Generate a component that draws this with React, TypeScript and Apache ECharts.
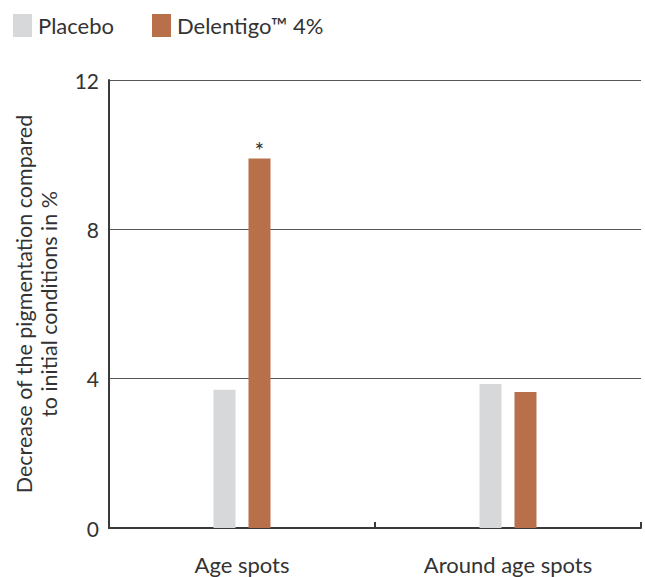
import React, { useEffect, useRef } from "react";
import * as echarts from "echarts";

const categories = ["Age spots", "Around age spots"];
const placebo = [3.7, 3.86];
const delentigo = [9.9, 3.64];
const seriesNames = ["Placebo", "Delentigo™ 4%"];
const significance = ["*", ""];
const yTicks = { min: 0, max: 12, interval: 4 };

const FONT = "Lato, 'Noto Sans', sans-serif";
const TXT = "#333333";

export default function App() {
  const ref = useRef<HTMLDivElement>(null);
  useEffect(() => {
    if (!ref.current) return;
    const chart = echarts.init(ref.current, null, { renderer: "svg" });
    chart.setOption({
      animation: false,
      textStyle: { fontFamily: FONT, color: TXT },
      legend: {
        left: 13,
        top: 14,
        padding: 0,
        icon: "rect",
        itemWidth: 19,
        itemHeight: 23,
        itemGap: 38,
        textStyle: { fontSize: 22, color: TXT, fontFamily: FONT, padding: [0, 0, 0, 1] },
        data: seriesNames,
      },
      grid: { left: 109, right: 4, top: 80, bottom: 49, outerBoundsMode: "none", containLabel: false },
      xAxis: {
        type: "category",
        data: categories,
        axisLine: { lineStyle: { color: "#3a3a3a", width: 2 } },
        axisTick: { show: true, length: 6, inside: true, lineStyle: { color: "#3a3a3a", width: 2 } },
        axisLabel: { fontSize: 22, color: TXT, margin: 25, fontFamily: FONT },
      },
      yAxis: {
        type: "value",
        min: yTicks.min,
        max: yTicks.max,
        interval: yTicks.interval,
        name: "Decrease of the pigmentation compared\nto initial conditions in %",
        nameLocation: "middle",
        nameRotate: 90,
        nameGap: 48,
        nameTextStyle: { fontSize: 21.5, color: TXT, lineHeight: 25, fontFamily: FONT },
        axisLine: { show: true, lineStyle: { color: "#3a3a3a", width: 2 } },
        axisTick: { show: false },
        axisLabel: { fontSize: 21, color: TXT, margin: 10, fontFamily: FONT },
        splitLine: { lineStyle: { color: "#555555", width: 1 } },
      },
      series: [
        {
          name: seriesNames[0],
          type: "bar",
          data: placebo,
          barWidth: 22,
          barGap: "59%",
          itemStyle: { color: "#d7d8da" },
        },
        {
          name: seriesNames[1],
          type: "bar",
          data: delentigo.map((v, i) => ({
            value: v,
            label: {
              show: significance[i] !== "",
              formatter: significance[i],
              position: "top",
              distance: -3,
              fontSize: 23,
              color: TXT,
            },
          })),
          barWidth: 22,
          itemStyle: { color: "#b8704b" },
        },
      ],
    });
    return () => chart.dispose();
  }, []);
  return (
    <div
      ref={ref}
      style={{ position: "fixed", left: 0, top: 0, width: 645, height: 577, background: "#fff" }}
    />
  );
}
